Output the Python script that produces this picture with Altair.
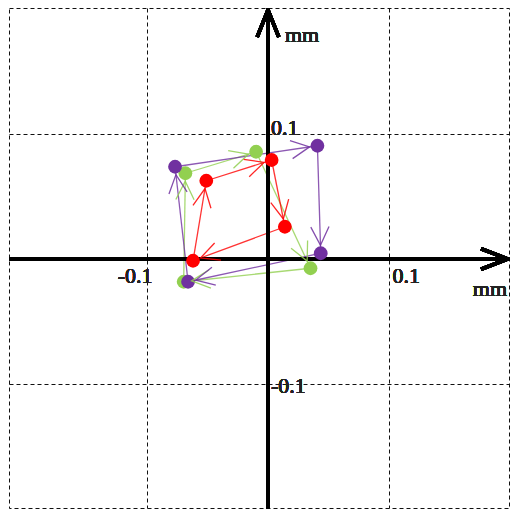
import altair as alt
import pandas as pd
import numpy as np

# ---- data (mm) ----
SERIES = ["green", "purple", "red"]
COLORS = ["#92D050", "#7030A0", "#FF0000"]
GREEN_X = [-0.0680, -0.0098, 0.0350, -0.0694]
GREEN_Y = [0.0686, 0.0858, -0.0074, -0.0182]
PURPLE_X = [-0.0765, 0.0407, 0.0434, -0.0658]
PURPLE_Y = [0.0738, 0.0906, 0.0046, -0.0182]
RED_X = [-0.0508, 0.0030, 0.0139, -0.0617]
RED_Y = [0.0626, 0.0792, 0.0258, -0.0014]
GRID_X = [-0.1, 0.1]
GRID_Y = [-0.1, 0.1]
X_LABELS = ["-0.1", "0.1"]
Y_LABELS = ["-0.1", "0.1"]
UNIT = "mm"

# ---- layout ----
W, H = 500, 500
XMIN, XMAX = -0.2132, 0.1984
YMIN, YMAX = -0.1992, 0.2008
KX = W / (XMAX - XMIN)
KY = H / (YMAX - YMIN)
FONT = "Liberation Serif"

xs = {"green": GREEN_X, "purple": PURPLE_X, "red": RED_X}
ys = {"green": GREEN_Y, "purple": PURPLE_Y, "red": RED_Y}

pts = []
segs = []
for s in SERIES:
    n = len(xs[s])
    for i in range(n):
        pts.append({"series": s, "x": xs[s][i], "y": ys[s][i]})
        j = (i + 1) % n
        x0, y0, x1, y1 = xs[s][i], ys[s][i], xs[s][j], ys[s][j]
        dxp = (x1 - x0) * KX
        dyp = -(y1 - y0) * KY
        ang = np.degrees(np.arctan2(dxp, -dyp)) % 360
        segs.append({"series": s, "x": x0, "y": y0, "x2": x1, "y2": y1, "angle": float(ang)})
pts = pd.DataFrame(pts)
segs = pd.DataFrame(segs)

xscale = alt.Scale(domain=[XMIN, XMAX], nice=False, zero=False)
yscale = alt.Scale(domain=[YMIN, YMAX], nice=False, zero=False)
cscale = alt.Scale(domain=SERIES, range=COLORS)

xaxis = alt.Axis(values=GRID_X, grid=True, gridDash=[4, 3], gridColor="#111",
                 gridWidth=1, labels=False, ticks=False, domain=False, title=None)
yaxis = alt.Axis(values=GRID_Y, grid=True, gridDash=[4, 3], gridColor="#111",
                 gridWidth=1, labels=False, ticks=False, domain=False, title=None)

# connecting lines
lines = alt.Chart(segs).mark_rule(strokeWidth=1.3, opacity=0.8).encode(
    x=alt.X("x:Q", scale=xscale, axis=xaxis),
    y=alt.Y("y:Q", scale=yscale, axis=yaxis),
    x2="x2:Q",
    y2="y2:Q",
    color=alt.Color("series:N", scale=cscale, legend=None),
)

# dots
dots = alt.Chart(pts).mark_circle(size=190, opacity=1).encode(
    x="x:Q",
    y="y:Q",
    color=alt.Color("series:N", scale=cscale, legend=None),
)

# arrowheads (open V, tip offset toward the source)
HEAD = "M -0.38 1.1 L 0 0.33 L 0.38 1.1"
heads = alt.Chart(segs).mark_point(shape=HEAD, size=2304, filled=False,
                                   strokeWidth=1.3, opacity=0.85).encode(
    x="x2:Q",
    y="y2:Q",
    angle=alt.Angle("angle:Q", scale=None),
    color=alt.Color("series:N", scale=cscale, legend=None),
)

# main axes
haxis = alt.Chart(pts).mark_rule(color="black", strokeWidth=3.5).encode(
    x=alt.value(0), x2=alt.value(W), y=alt.datum(0)
)
vaxis = alt.Chart(pts).mark_rule(color="black", strokeWidth=3.5).encode(
    x=alt.datum(0), y=alt.value(3), y2=alt.value(H + 1)
)
harrow = alt.Chart(pts).mark_point(shape="M -1 -0.38 L 0 0 L -1 0.38", size=2916,
                                   filled=False, color="black", strokeWidth=3.5,
                                   opacity=1).encode(
    x=alt.value(W - 1), y=alt.datum(0)
)
varrow = alt.Chart(pts).mark_point(shape="M -0.4 1 L 0 0 L 0.4 1", size=2916,
                                   filled=False, color="black", strokeWidth=3.5,
                                   opacity=1).encode(
    x=alt.datum(0), y=alt.value(2)
)

txt = dict(font=FONT, fontSize=22, fontWeight=400, color="#222", baseline="alphabetic")
xl_neg = alt.Chart(pts).mark_text(align="right", dx=6, dy=24, **txt).encode(
    x=alt.datum(GRID_X[0]), y=alt.datum(0), text=alt.value(X_LABELS[0]))
xl_pos = alt.Chart(pts).mark_text(align="left", dx=3, dy=24, **txt).encode(
    x=alt.datum(GRID_X[1]), y=alt.datum(0), text=alt.value(X_LABELS[1]))
yl_pos = alt.Chart(pts).mark_text(align="left", dx=3, dy=1, **txt).encode(
    x=alt.datum(0), y=alt.datum(GRID_Y[1]), text=alt.value(Y_LABELS[1]))
yl_neg = alt.Chart(pts).mark_text(align="left", dx=3, dy=9, **txt).encode(
    x=alt.datum(0), y=alt.datum(GRID_Y[0]), text=alt.value(Y_LABELS[0]))
mm_x = alt.Chart(pts).mark_text(align="right", dx=0, dy=37, **txt).encode(
    x=alt.value(W - 2), y=alt.datum(0), text=alt.value(UNIT))
mm_y = alt.Chart(pts).mark_text(align="left", dx=17, **txt).encode(
    x=alt.datum(0), y=alt.value(34), text=alt.value(UNIT))

chart = alt.layer(
    lines, haxis, vaxis, harrow, varrow, dots, heads,
    xl_neg, xl_pos, yl_pos, yl_neg, mm_x, mm_y
).properties(
    width=W, height=H,
    padding={"left": 1, "top": 0, "right": 1, "bottom": 1},
    autosize="none",
).configure_view(
    stroke="#111", strokeDash=[4, 3], strokeWidth=1
)

chart.save("out.html", embed_options={"renderer": "svg", "actions": False})
